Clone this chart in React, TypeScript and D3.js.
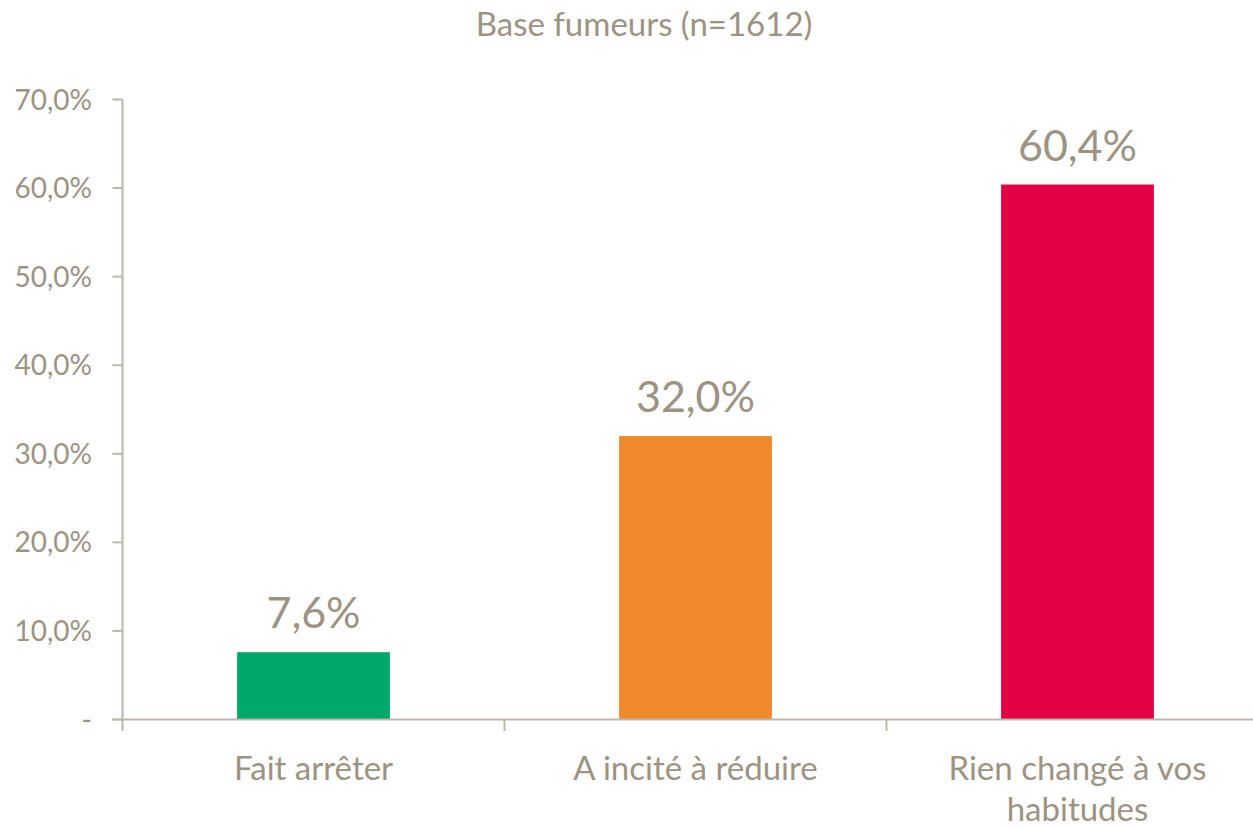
import React, { useEffect, useRef } from "react";
import * as d3 from "d3";

const categories = ["Fait arrêter", "A incité à réduire", "Rien changé à vos habitudes"];
const categoryLines = [["Fait arrêter"], ["A incité à réduire"], ["Rien changé à vos", "habitudes"]];
const values = [7.6, 32.0, 60.4];
const colors = ["#00A86B", "#EF8A2C", "#E30045"];
const yTicks = [0, 10, 20, 30, 40, 50, 60, 70];
const title = "Base fumeurs (n=1612)";

const textColor = "#9C9383";
const axisColor = "#BDB6AB";
const font = "Lato, 'Open Sans', sans-serif";

const App = () => {
  const svgRef = useRef<SVGSVGElement>(null);

  useEffect(() => {
    const W = 1253;
    const H = 828;
    const svg = d3.select(svgRef.current).attr("width", W).attr("height", H);
    svg.selectAll("*").remove();

    const left = 122.5;
    const step = 382;
    const x = d3
      .scaleBand()
      .domain(categories)
      .range([left, left + step * categories.length])
      .padding(0);
    const y = d3.scaleLinear().domain([0, 70]).range([719.5, 99.5]);
    const barW = x.bandwidth() * 0.4;

    // title
    svg
      .append("text")
      .attr("x", 644)
      .attr("y", 36)
      .attr("text-anchor", "middle")
      .attr("font-family", font)
      .attr("font-size", 33)
      .attr("fill", textColor)
      .text(title);

    // y axis
    svg
      .append("line")
      .attr("x1", left)
      .attr("x2", left)
      .attr("y1", y(70))
      .attr("y2", 731)
      .attr("stroke", axisColor)
      .attr("stroke-width", 2);

    const yt = svg.append("g").selectAll("g").data(yTicks).join("g");
    yt.append("line")
      .attr("x1", left - 10)
      .attr("x2", left)
      .attr("y1", (d) => y(d))
      .attr("y2", (d) => y(d))
      .attr("stroke", axisColor)
      .attr("stroke-width", 2);
    yt.append("text")
      .attr("x", 92)
      .attr("y", (d) => y(d) + 10)
      .attr("text-anchor", "end")
      .attr("font-family", font)
      .attr("font-size", 28)
      .attr("fill", textColor)
      .text((d) => (d === 0 ? "-" : d.toFixed(1).replace(".", ",") + "%"));

    // bars
    svg
      .append("g")
      .selectAll("rect")
      .data(values)
      .join("rect")
      .attr("x", (d, i) => x(categories[i])! + (x.bandwidth() - barW) / 2)
      .attr("width", barW)
      .attr("y", (d) => y(d))
      .attr("height", (d) => y(0) - y(d))
      .attr("fill", (d, i) => colors[i]);

    // value labels
    svg
      .append("g")
      .selectAll("text")
      .data(values)
      .join("text")
      .attr("x", (d, i) => x(categories[i])! + x.bandwidth() / 2)
      .attr("y", (d) => y(d) - 24)
      .attr("text-anchor", "middle")
      .attr("font-family", font)
      .attr("font-size", 43)
      .attr("fill", textColor)
      .text((d) => d.toFixed(1).replace(".", ",") + "%");

    // x axis
    svg
      .append("line")
      .attr("x1", left - 10)
      .attr("x2", W)
      .attr("y1", y(0))
      .attr("y2", y(0))
      .attr("stroke", axisColor)
      .attr("stroke-width", 2);

    svg
      .append("g")
      .selectAll("line")
      .data(categories.slice(1))
      .join("line")
      .attr("x1", (d) => x(d)!)
      .attr("x2", (d) => x(d)!)
      .attr("y1", y(0))
      .attr("y2", 731)
      .attr("stroke", axisColor)
      .attr("stroke-width", 2);

    const cl = svg.append("g").selectAll("text").data(categories).join("text")
      .attr("text-anchor", "middle")
      .attr("font-family", font)
      .attr("font-size", 33)
      .attr("fill", textColor);
    cl.each(function (d, i) {
      const t = d3.select(this);
      categoryLines[i].forEach((line, j) => {
        t.append("tspan")
          .attr("x", x(d)! + x.bandwidth() / 2)
          .attr("y", 780 + j * 41)
          .text(line);
      });
    });
  }, []);

  return (
    <svg
      ref={svgRef}
      style={{ position: "absolute", left: 0, top: 0, background: "#fff" }}
    />
  );
};

export default App;
